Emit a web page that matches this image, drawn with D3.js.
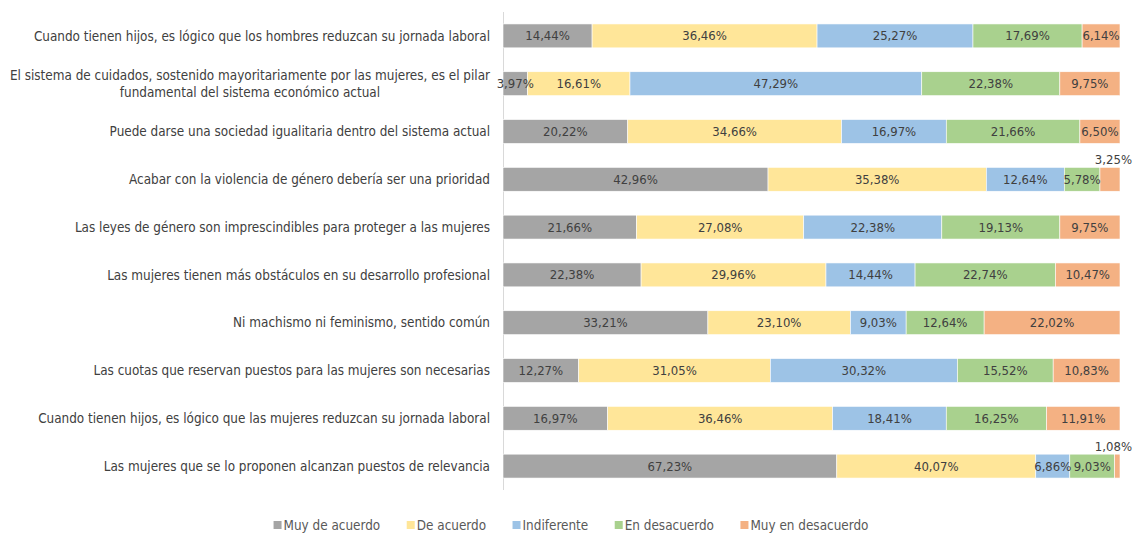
<!DOCTYPE html>
<html>
<head>
<meta charset="utf-8">
<script src="https://cdnjs.cloudflare.com/ajax/libs/d3/7.8.5/d3.min.js"></script>
<style>
  body { margin: 0; background: #fff; }
  svg { font-family: "Liberation Sans Narrow", "DejaVu Sans Condensed", "Arial Narrow", sans-serif; }
</style>
</head>
<body>
<script>

var categories = [
  "Cuando tienen hijos, es lógico que los hombres reduzcan su jornada laboral",
  "El sistema de cuidados, sostenido mayoritariamente por las mujeres, es el pilar fundamental del sistema económico actual",
  "Puede darse una sociedad igualitaria dentro del sistema actual",
  "Acabar con la violencia de género debería ser una prioridad",
  "Las leyes de género son imprescindibles para proteger a las mujeres",
  "Las mujeres tienen más obstáculos en su desarrollo profesional",
  "Ni machismo ni feminismo, sentido común",
  "Las cuotas que reservan puestos para las mujeres son necesarias",
  "Cuando tienen hijos, es lógico que las mujeres reduzcan su jornada laboral",
  "Las mujeres que se lo proponen alcanzan puestos de relevancia"
];

var seriesNames = ["Muy de acuerdo", "De acuerdo", "Indiferente", "En desacuerdo", "Muy en desacuerdo"];
var colors = ["#a5a5a5", "#ffe699", "#9dc3e6", "#a9d18e", "#f4b183"];

var muyDeAcuerdo     = [14.44, 3.97, 20.22, 42.96, 21.66, 22.38, 33.21, 12.27, 16.97, 67.23];
var deAcuerdo        = [36.46, 16.61, 34.66, 35.38, 27.08, 29.96, 23.10, 31.05, 36.46, 40.07];
var indiferente      = [25.27, 47.29, 16.97, 12.64, 22.38, 14.44, 9.03, 30.32, 18.41, 6.86];
var enDesacuerdo     = [17.69, 22.38, 21.66, 5.78, 19.13, 22.74, 12.64, 15.52, 16.25, 9.03];
var muyEnDesacuerdo  = [6.14, 9.75, 6.50, 3.25, 9.75, 10.47, 22.02, 10.83, 11.91, 1.08];

var seriesValues = [muyDeAcuerdo, deAcuerdo, indiferente, enDesacuerdo, muyEnDesacuerdo];

var rows = categories.map(function(c, i){
  var r = {cat: c};
  seriesNames.forEach(function(s, j){ r[s] = seriesValues[j][i]; });
  return r;
});

var W = 1134, H = 534;
var svg = d3.select("body").append("svg").attr("width", W).attr("height", H);

var x = d3.scaleLinear().domain([0, 1]).range([503, 1120]);
var y = d3.scaleBand().domain(categories).range([12, 490]).paddingInner(0.5).paddingOuter(0.25);

var stack = d3.stack().keys(seriesNames).offset(d3.stackOffsetExpand);
var layers = stack(rows);

var locale = d3.formatLocale({decimal: ",", thousands: ".", grouping: [3], currency: ["", "€"]});
var fmt = locale.format(".2f");

// axis line
svg.append("line")
  .attr("x1", 503.5).attr("x2", 503.5)
  .attr("y1", y.range()[0]).attr("y2", y.range()[1])
  .style("stroke", "#d9d9d9").style("stroke-width", 1);

var g = svg.selectAll("g.layer").data(layers).enter().append("g")
  .attr("class", "layer")
  .style("fill", function(d, i){ return colors[i]; });

g.selectAll("rect").data(function(d){ return d; }).enter().append("rect")
  .attr("x", function(d){ return x(d[0]); })
  .attr("y", function(d){ return y(d.data.cat); })
  .attr("width", function(d){ return x(d[1]) - x(d[0]); })
  .attr("height", y.bandwidth())
  .style("stroke", "#fff")
  .style("stroke-width", 0.6);

// data labels; tiny last segments get their label above the bar
var last = seriesNames.length - 1;
function above(li, v){ return li === last && v < 4; }

layers.forEach(function(layer, li){
  svg.append("g").selectAll("text").data(layer).enter().append("text")
    .attr("x", function(d){
      return above(li, d.data[layer.key]) ? x(d[1]) + 12 : (x(d[0]) + x(d[1])) / 2;
    })
    .attr("y", function(d){
      return above(li, d.data[layer.key]) ? y(d.data.cat) - 3 : y(d.data.cat) + y.bandwidth() / 2;
    })
    .attr("dy", function(d){ return above(li, d.data[layer.key]) ? 0 : "0.35em"; })
    .attr("text-anchor", function(d){ return above(li, d.data[layer.key]) ? "end" : "middle"; })
    .style("font-size", "13px")
    .style("fill", "#404040")
    .text(function(d){ return fmt(d.data[layer.key]) + "%"; });
});

// category labels (wrapped, centered like Excel)
var labelRight = 490, maxW = 490, fs = "13.4px";
var labG = svg.append("g");
categories.forEach(function(c){
  var t = labG.append("text").style("font-size", fs);
  var words = c.split(" "), lines = [], line = [];
  words.forEach(function(w){
    line.push(w);
    t.text(line.join(" "));
    if (t.node().getComputedTextLength() > maxW && line.length > 1) {
      line.pop();
      lines.push(line.join(" "));
      line = [w];
    }
  });
  lines.push(line.join(" "));
  t.text(lines[0]);
  var w0 = t.node().getComputedTextLength();
  t.remove();
  var cy = y(c) + y.bandwidth() / 2;
  var lh = 17;
  lines.forEach(function(l, k){
    labG.append("text")
      .attr("x", lines.length > 1 ? labelRight - w0 / 2 : labelRight)
      .attr("y", cy + (k - (lines.length - 1) / 2) * lh)
      .attr("dy", "0.35em")
      .attr("text-anchor", lines.length > 1 ? "middle" : "end")
      .style("font-size", fs)
      .style("fill", "#404040")
      .text(l);
  });
});

// legend
var leg = svg.append("g");
var items = leg.selectAll("g").data(seriesNames).enter().append("g");
items.append("rect").attr("width", 8).attr("height", 8).attr("y", -4)
  .style("fill", function(d, i){ return colors[i]; });
items.append("text").attr("x", 10).attr("dy", "0.35em")
  .style("font-size", fs).style("fill", "#595959")
  .text(function(d){ return d; });
var pos = 0, gap = 26.5;
items.each(function(){
  var wd = this.getBBox().width;
  this.__x = pos;
  pos += wd + gap;
});
var total = pos - gap;
var startX = 571 - total / 2;
items.attr("transform", function(){ return "translate(" + (startX + this.__x) + ",525)"; });

</script>
</body>
</html>
